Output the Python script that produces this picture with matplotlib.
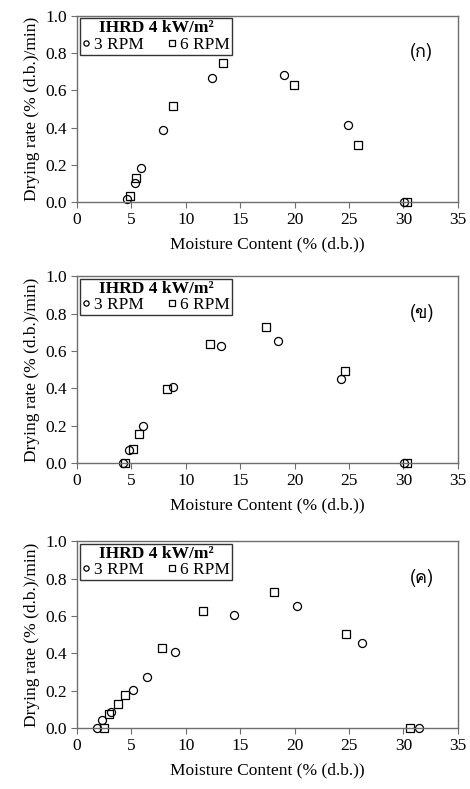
import matplotlib
matplotlib.use('Agg')
import matplotlib.pyplot as plt
from matplotlib import font_manager
from matplotlib.ft2font import FT2Font
import numpy as np

# panel labels in Thai
panel_labels = ['(ก)', '(ข)', '(ค)']

# 3 RPM (circles) and 6 RPM (squares) for each panel
mc_3rpm = [
    [4.6, 5.3, 5.9, 7.9, 12.4, 19.0, 24.9, 30.1],
    [4.2, 4.8, 6.1, 8.8, 13.2, 18.5, 24.3, 30.1],
    [1.8, 2.3, 3.1, 5.1, 6.4, 9.0, 14.4, 20.2, 26.2, 31.4],
]
rate_3rpm = [
    [0.016, 0.10, 0.184, 0.386, 0.664, 0.68, 0.415, 0.0],
    [0.0, 0.071, 0.20, 0.409, 0.625, 0.655, 0.452, 0.0],
    [0.0, 0.043, 0.087, 0.203, 0.275, 0.41, 0.607, 0.655, 0.458, 0.0],
]
mc_6rpm = [
    [4.85, 5.45, 8.8, 13.4, 19.9, 25.8, 30.3],
    [4.45, 5.15, 5.7, 8.3, 12.2, 17.4, 24.6, 30.3],
    [2.45, 2.9, 3.8, 4.45, 7.8, 11.6, 18.1, 24.7, 30.6],
]
rate_6rpm = [
    [0.03, 0.13, 0.517, 0.746, 0.628, 0.306, 0.0],
    [0.0, 0.076, 0.155, 0.396, 0.636, 0.727, 0.493, 0.0],
    [0.0, 0.077, 0.127, 0.178, 0.429, 0.625, 0.727, 0.505, 0.0],
]

xticks = [0, 5, 10, 15, 20, 25, 30, 35]
yticks = [0.0, 0.2, 0.4, 0.6, 0.8, 1.0]


def thai_font():
    for f in font_manager.fontManager.ttflist:
        try:
            if 0x0E01 in FT2Font(f.fname).get_charmap():
                return f.name
        except Exception:
            pass
    return 'DejaVu Sans'


serif = 'Liberation Serif'
plt.rcParams['font.family'] = [serif, 'DejaVu Sans']
thai = thai_font()

fig = plt.figure(figsize=(4.7, 7.89), dpi=100)
boxes = [(0.744, 0.980), (0.413, 0.650), (0.077, 0.314)]
left, right = 0.164, 0.974
spine_col = '#6e6e6e'

for i, (b, t) in enumerate(boxes):
    ax = fig.add_axes([left, b, right - left, t - b])
    ax.plot(mc_3rpm[i], rate_3rpm[i], 'o', ms=5.8, mfc='none', mec='black',
            mew=0.9, label='3 RPM', clip_on=False)
    ax.plot(mc_6rpm[i], rate_6rpm[i], 's', ms=5.6, mfc='none', mec='black',
            mew=0.9, label='6 RPM', clip_on=False)
    ax.set_xlim(0, 35)
    ax.set_ylim(0, 1.0)
    ax.set_xticks(xticks)
    ax.set_yticks(yticks)
    ax.set_yticklabels(['%.1f' % v for v in yticks])
    ax.tick_params(direction='out', length=4, width=0.8, color=spine_col,
                   labelsize=12.5, pad=3)
    for s in ax.spines.values():
        s.set_color(spine_col)
        s.set_linewidth(1.0)
    ax.set_xlabel('Moisture Content (% (d.b.))', fontsize=12.5, labelpad=6)
    ax.set_ylabel('Drying rate (% (d.b.)/min)', fontsize=12.5, labelpad=4)
    leg = ax.legend(loc='upper left', bbox_to_anchor=(0.0, 1.0), ncol=2,
                    title='IHRD 4 kW/m²',
                    title_fontproperties={'weight': 'bold', 'size': 12.5,
                                          'family': serif},
                    fontsize=12.5, markerscale=0.65, handlelength=0.45,
                    handletextpad=0.25, columnspacing=1.4, borderpad=0.12,
                    labelspacing=0.1, borderaxespad=0.15, fancybox=False,
                    edgecolor='#333333', framealpha=1)
    leg.get_frame().set_linewidth(1.0)
    leg._legend_box.sep = 0
    ax.text(0.905, 0.805, panel_labels[i], transform=ax.transAxes,
            fontsize=13, family=[thai, serif], ha='center', va='center')

fig.savefig('out.png', dpi=100)
